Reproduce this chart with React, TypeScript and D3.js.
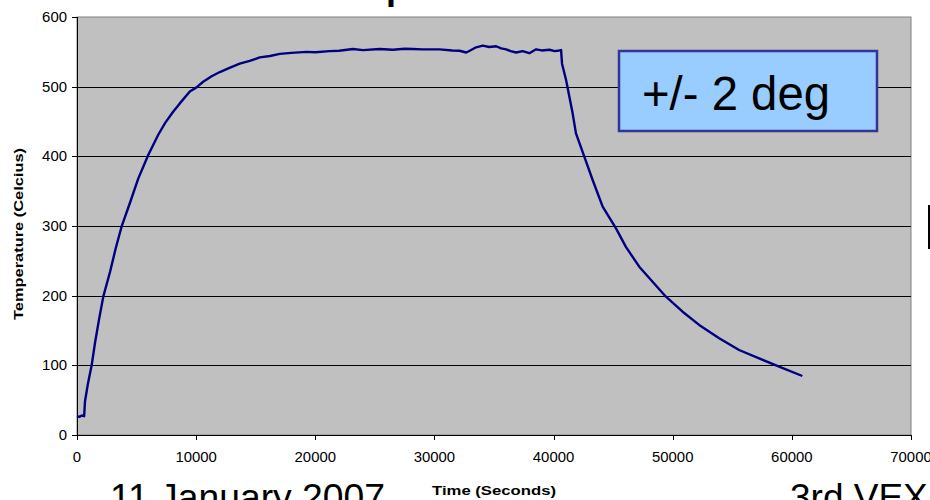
import React from "react";
import * as d3 from "d3";

const timeSeconds = [
  0, 200, 400, 600, 670, 900, 1230, 1510, 1850, 2210, 2770, 3250, 3740, 4440, 5140, 5980, 6820, 7400, 8070, 8630,
  9470, 10030, 10590, 11300, 11990, 12800, 13660, 14500, 15340, 16200, 17020, 18000, 19250, 20000, 21200, 22000,
  23160, 24000, 25400, 26500, 27500, 28170, 29000, 30430, 31500, 32100, 32670, 33000, 33500, 34060, 34600, 35180,
  35600, 36020, 36400, 36860, 37400, 37970, 38530, 39000, 39650, 40100, 40490, 40630, 40710, 41050, 41600, 41880,
  42580, 43280, 44120, 45240, 46070, 47190, 48310, 49430, 50830, 52220, 53900, 55570, 57250, 58930, 60880,
];

const temperatureC = [
  27, 26, 28, 27, 48, 72, 100, 132, 166, 199, 234, 268, 299, 333, 368, 402, 431, 448, 464, 476,
  493, 499, 507, 515, 521, 527, 533, 537, 542, 544, 547, 548.5, 550, 549.5, 551, 551.5,
  554, 552.5, 554, 553, 554.5, 554, 553.5, 553.5, 552, 551.6, 549, 552, 556.5, 559, 557, 558,
  555, 553.6, 551, 549, 551, 548, 553.6, 552, 553, 551, 552, 552.5, 533, 509.5, 461.7, 433,
  399.5, 366, 327.7, 296.6, 270, 241.6, 220, 198.5, 177, 158, 138.8, 122, 110, 98, 84.7,
];

const xTicks = [0, 10000, 20000, 30000, 40000, 50000, 60000, 70000];
const yTicks = [0, 100, 200, 300, 400, 500, 600];
const gridValues = [100, 200, 300, 400, 500];

const xAxisTitle = "Time (Seconds)";
const yAxisTitle = "Temperature (Celcius)";
const calloutText = "+/- 2 deg";
const footerLeft = "11 January 2007";
const footerRight = "3rd VEX";
const titleFragment = "p";

const W = 930;
const H = 500;
const plot = { left: 77, right: 911, top: 17, bottom: 435 };
const FONT = "Arial, 'Liberation Sans', Helvetica, sans-serif";

export default function App() {
  const x = d3.scaleLinear().domain([0, 70000]).range([plot.left, plot.right]);
  const y = d3.scaleLinear().domain([0, 600]).range([plot.bottom, plot.top]);
  const pts = timeSeconds.map((t, i) => [t, temperatureC[i]] as [number, number]);
  const line = d3
    .line<[number, number]>()
    .x((d) => x(d[0]))
    .y((d) => y(d[1]));

  return (
    <svg
      width={W}
      height={H}
      style={{ position: "absolute", left: 0, top: 0, background: "#fff" }}
      fontFamily={FONT}
    >
      <rect x={0} y={0} width={W} height={H} fill="#fff" />
      {/* cut-off title fragment */}
      <text x={386} y={-1} fontSize={36} fontWeight="bold" fill="#000">
        {titleFragment}
      </text>
      {/* plot area */}
      <rect
        x={plot.left}
        y={plot.top}
        width={plot.right - plot.left}
        height={plot.bottom - plot.top}
        fill="#C0C0C0"
        stroke="#808080"
        strokeWidth={1}
      />
      {gridValues.map((v) => (
        <line
          key={"g" + v}
          x1={plot.left}
          x2={plot.right}
          y1={Math.round(y(v)) + 0.5}
          y2={Math.round(y(v)) + 0.5}
          stroke="#000"
          strokeWidth={1}
        />
      ))}
      {/* axes */}
      <line x1={plot.left + 0.5} x2={plot.left + 0.5} y1={plot.top} y2={plot.bottom + 5} stroke="#000" />
      <line x1={plot.left - 5} x2={plot.right} y1={plot.bottom + 0.5} y2={plot.bottom + 0.5} stroke="#000" />
      {yTicks.map((v) => (
        <g key={"y" + v}>
          <line
            x1={plot.left - 5}
            x2={plot.left}
            y1={Math.round(y(v)) + 0.5}
            y2={Math.round(y(v)) + 0.5}
            stroke="#000"
          />
          <text
            x={plot.left - 10}
            y={y(v) + 5}
            textAnchor="end"
            fontSize={14}
            fill="#000"
            textLength={String(v).length * 8.3}
            lengthAdjust="spacingAndGlyphs"
          >
            {v}
          </text>
        </g>
      ))}
      {xTicks.map((v) => (
        <g key={"x" + v}>
          <line
            x1={Math.round(x(v)) + 0.5}
            x2={Math.round(x(v)) + 0.5}
            y1={plot.bottom}
            y2={plot.bottom + 5}
            stroke="#000"
          />
          <text
            x={x(v)}
            y={462}
            textAnchor="middle"
            fontSize={14}
            fill="#000"
            textLength={String(v).length * 8.3}
            lengthAdjust="spacingAndGlyphs"
          >
            {v}
          </text>
        </g>
      ))}
      {/* data line */}
      <path d={line(pts) || ""} fill="none" stroke="#000080" strokeWidth={2.4} strokeLinejoin="round" />
      {/* axis titles */}
      <text
        x={494}
        y={495}
        textAnchor="middle"
        fontSize={13}
        fontWeight="bold"
        textLength={124}
        lengthAdjust="spacingAndGlyphs"
      >
        {xAxisTitle}
      </text>
      <text
        transform={`translate(23,234) rotate(-90)`}
        textAnchor="middle"
        fontSize={13}
        fontWeight="bold"
        textLength={172}
        lengthAdjust="spacingAndGlyphs"
      >
        {yAxisTitle}
      </text>
      {/* callout */}
      <rect x={619} y={51} width={258} height={80} fill="#99CCFF" stroke="#333399" strokeWidth={2.5} />
      <text x={642} y={110} fontSize={48} fill="#000" textLength={188} lengthAdjust="spacingAndGlyphs">
        {calloutText}
      </text>
      {/* slide fragments */}
      <line x1={929} x2={929} y1={205} y2={249} stroke="#000" strokeWidth={2} />
      <text x={110} y={510} fontSize={37} fill="#000" textLength={275} lengthAdjust="spacingAndGlyphs">
        {footerLeft}
      </text>
      <text x={790} y={510} fontSize={37} fill="#000">
        {footerRight}
      </text>
    </svg>
  );
}
